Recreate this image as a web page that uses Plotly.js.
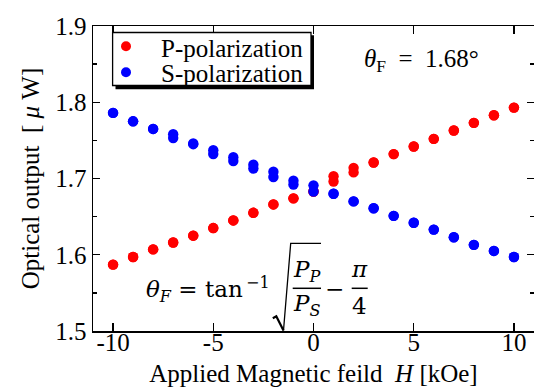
<!DOCTYPE html>
<html>
<head>
<meta charset="utf-8">
<script src="https://cdn.plot.ly/plotly-3.0.1.min.js"></script>
<style>html,body{margin:0;padding:0;background:#fff;}#chart{width:534px;height:388px;}</style>
</head>
<body>
<div id="chart"></div>
<script>
// ---- data ----
var hField = [-10,-9,-8,-7,-6,-5,-4,-3,-2,-1,0,1,2,3,4,5,6,7,8,9,10];
var pSweepUp   = [1.587,1.597,1.607,1.616,1.625,1.635,1.645,1.655,1.666,1.674,1.683,1.703,1.714,1.721,1.732,1.742,1.752,1.763,1.773,1.783,1.793];
var pSweepDown = [1.587,1.597,1.607,1.616,1.625,1.635,1.645,1.655,1.666,1.674,1.683,1.696,1.708,1.721,1.732,1.742,1.752,1.763,1.773,1.783,1.793];
var sSweepUp   = [1.786,1.775,1.765,1.758,1.746,1.737,1.728,1.718,1.709,1.697,1.691,1.680,1.670,1.661,1.651,1.642,1.633,1.623,1.613,1.605,1.597];
var sSweepDown = [1.786,1.775,1.765,1.753,1.745,1.732,1.723,1.713,1.702,1.692,1.683,1.680,1.670,1.661,1.651,1.642,1.633,1.623,1.613,1.605,1.597];
var xTicks = [-10,-5,0,5,10];
var xTickLabels = ['-10','-5','0','5','10'];
var seriesNames = ['P-polarization','S-polarization'];

// ---- layout helpers (pixel -> paper) ----
var W = 534, H = 388, ML = 93, MR = 0, MT = 26, MB = 57;
var PW = W - ML - MR, PH = H - MT - MB;
function px(x){ return (x - ML) / PW; }
function py(y){ return (H - MB - y) / PH; }
function path(pts){ return pts.map(function(p,i){ return (i? 'L':'M') + px(p[0]).toFixed(5) + ',' + py(p[1]).toFixed(5); }).join(' '); }

var serif = 'Liberation Serif';
var math = 'DejaVu Serif';
var RED = '#ff0000', BLUE = '#0000ff';
var MS = 10.4;

var traces = [
  {x: hField, y: pSweepUp, type:'scatter', mode:'markers', name: seriesNames[0], marker:{color:RED, size:MS}, showlegend:false},
  {x: hField, y: pSweepDown, type:'scatter', mode:'markers', name: seriesNames[0], marker:{color:RED, size:MS}, showlegend:false},
  {x: hField, y: sSweepUp, type:'scatter', mode:'markers', name: seriesNames[1], marker:{color:BLUE, size:MS}, showlegend:false},
  {x: hField, y: sSweepDown, type:'scatter', mode:'markers', name: seriesNames[1], marker:{color:BLUE, size:MS}, showlegend:false}
];

function ann(text, x, yTop, opts){
  var a = {text:text, xref:'paper', yref:'paper', x:px(x), y:py(yTop), xanchor:'left', yanchor:'top',
    showarrow:false, borderpad:0, font:{family:serif, size:25, color:'#000'}};
  for (var k in opts){ a[k] = opts[k]; }
  return a;
}
var mf = {family:math, size:23, color:'#000'};

var annotations = [
  ann(seriesNames[0], 160, 56.7 - 22.3),
  ann(seriesNames[1], 160, 81.7 - 22.3),
  ann('<i>θ</i><sub>F</sub>\u2002=\u20021.68°', 363, 66.7 - 22.3),
  ann('<i>θ</i><sub><i>F</i></sub> = tan', 145, 296.7 - 21.3, {font:mf}),
  ann('−1', 245, 286.7 - 14.8, {font:{family:math, size:16, color:'#000'}}),
  ann('<i>P</i><sub><i>P</i></sub>', 307, 276.7 - 21.3, {xanchor:'center', font:mf}),
  ann('<i>P</i><sub><i>S</i></sub>', 307, 310 - 21.3, {xanchor:'center', font:mf}),
  ann('−', 334, 296.7 - 21.3, {xanchor:'center', font:mf}),
  ann('<i>π</i>', 359.7, 276.7 - 21.3, {xanchor:'center', font:mf}),
  ann('4', 359.7, 313.3 - 21.3, {xanchor:'center', font:mf})
];

var shapes = [
  // legend shadow + box
  {type:'rect', xref:'paper', yref:'paper', x0:px(115.5), x1:px(314), y0:py(89.3), y1:py(35.3), fillcolor:'#000', line:{width:0}, layer:'above'},
  {type:'rect', xref:'paper', yref:'paper', x0:px(112.6), x1:px(311), y0:py(85.5), y1:py(32.5), fillcolor:'#fff', line:{color:'#000', width:1.3}, layer:'above'},
  {type:'circle', xref:'paper', yref:'paper', x0:px(126-5), x1:px(126+5), y0:py(46.3+5), y1:py(46.3-5), fillcolor:RED, line:{width:0}, layer:'above'},
  {type:'circle', xref:'paper', yref:'paper', x0:px(126-5), x1:px(126+5), y0:py(72.3+5), y1:py(72.3-5), fillcolor:BLUE, line:{width:0}, layer:'above'},
  // radical sign
  {type:'path', xref:'paper', yref:'paper', path:path([[272.8,318.2],[276.3,316.2],[283.5,330.5]]), line:{color:'#000', width:2.2}, layer:'above'},
  {type:'path', xref:'paper', yref:'paper', path:path([[283.5,330.5],[290.7,243.3],[321,243.3]]), line:{color:'#000', width:1.3}, layer:'above'},
  // fraction bars
  {type:'line', xref:'paper', yref:'paper', x0:px(292.7), x1:px(321), y0:py(288.3), y1:py(288.3), line:{color:'#000', width:1.5}, layer:'above'},
  {type:'line', xref:'paper', yref:'paper', x0:px(351.7), x1:px(367.7), y0:py(288.3), y1:py(288.3), line:{color:'#000', width:1.5}, layer:'above'}
];

var axisCommon = {showgrid:false, zeroline:false, showline:true, linecolor:'#000', linewidth:1.5,
  mirror:'ticks', ticks:'inside', tickcolor:'#000', tickwidth:1.3, ticklen:8,
  tickfont:{family:serif, size:25, color:'#000'}};

var layout = {
  width:W, height:H, margin:{l:ML, r:MR, t:MT, b:MB, pad:0},
  paper_bgcolor:'#fff', plot_bgcolor:'#fff', showlegend:false,
  font:{family:serif, color:'#000'},
  xaxis: Object.assign({}, axisCommon, {range:[-11,11], tickvals:xTicks, ticktext:xTickLabels, ticklabelstandoff:-12,
    title:{text:'Applied Magnetic feild\u00A0\u00A0<i>H</i> [kOe]', font:{family:serif, size:25, color:'#000'}, standoff:10}}),
  yaxis: Object.assign({}, axisCommon, {range:[1.5,1.9], dtick:0.1, tick0:1.5, tickformat:'.1f', ticklen:7,
    minor:{dtick:0.05, tick0:1.5, ticks:'inside', ticklen:4, tickwidth:1.3, tickcolor:'#000'},
    title:{text:'Optical output\u00A0\u00A0[\u00A0<i>μ</i>\u00A0W]', font:{family:serif, size:25, color:'#000'}, standoff:8}}),
  annotations: annotations,
  shapes: shapes
};

Plotly.newPlot('chart', traces, layout, {displayModeBar:false, staticPlot:true});
</script>
</body>
</html>
